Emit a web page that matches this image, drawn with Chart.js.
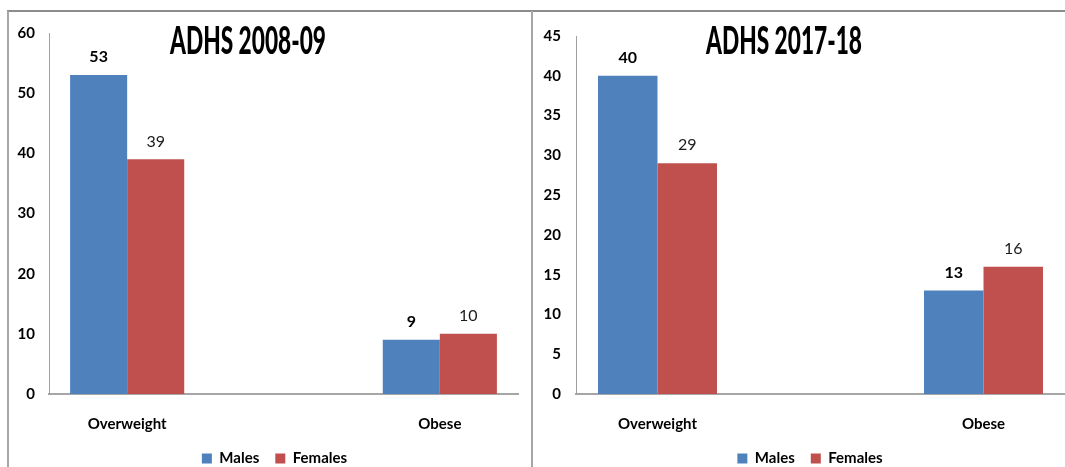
<!DOCTYPE html>
<html>
<head>
<meta charset="utf-8">
<title>ADHS overweight and obesity</title>
<script src="https://cdn.jsdelivr.net/npm/chart.js@4.4.1/dist/chart.umd.min.js"></script>
<style>
  html, body { margin: 0; padding: 0; background: #fff; }
  body { width: 1065px; height: 467px; overflow: hidden; position: relative; }
  .panel { position: absolute; top: 0; }
  .panel canvas { display: block; }
  .rule { position: absolute; background: #a6a6a6; }
</style>
</head>
<body>
<div class="panel" id="p1" style="left:0;width:532px;height:480px"><canvas id="c1"></canvas></div>
<div class="panel" id="p2" style="left:532px;width:560px;height:480px"><canvas id="c2"></canvas></div>
<div class="rule" style="left:7px;top:10px;width:1058px;height:2px;background:#8c8c8c"></div>
<div class="rule" style="left:7px;top:11px;width:2px;height:456px"></div>
<div class="rule" style="left:531px;top:11px;width:2px;height:456px"></div>
<script>
// Survey categories and series
const categories = ['Overweight', 'Obese'];
const seriesNames = ['Males', 'Females'];
const seriesColors = ['#4F81BD', '#C0504D'];

// ADHS 2008-09 (%)
const males0809 = [53, 9];
const females0809 = [39, 10];
// ADHS 2017-18 (%)
const males1718 = [40, 13];
const females1718 = [29, 16];

const titles = ['ADHS 2008-09', 'ADHS 2017-18'];
const axisMax = [60, 45];
const axisStep = [10, 5];

const FONT = "Lato, 'DejaVu Sans Condensed', sans-serif";
Chart.defaults.font.family = FONT;
Chart.defaults.color = '#000';

// The two groups sit in the outer slots of a three-slot axis
const slotLabels = [categories[0], '', categories[1]];
const toSlots = arr => [arr[0], null, arr[1]];

// Bar value labels: bold for males, regular for females
const valueLabels = {
  id: 'valueLabels',
  afterDatasetsDraw(chart) {
    const ctx = chart.ctx;
    ctx.save();
    ctx.textAlign = 'center';
    ctx.textBaseline = 'middle';
    chart.data.datasets.forEach((ds, di) => {
      const meta = chart.getDatasetMeta(di);
      ctx.font = (di === 0 ? 'bold ' : '') + '16px ' + FONT;
      ctx.fillStyle = di === 0 ? '#000' : '#1a1a1a';
      meta.data.forEach((el, i) => {
        const v = ds.data[i];
        if (v === null || v === undefined) return;
        ctx.fillText(String(v), el.x, el.y - 18);
      });
    });
    ctx.restore();
  }
};

// Condensed heading drawn over the top of the plot area
const panelTitle = {
  id: 'panelTitle',
  afterDraw(chart, args, opts) {
    const ctx = chart.ctx;
    ctx.save();
    ctx.font = '900 ' + opts.size + 'px ' + FONT;
    const w = ctx.measureText(opts.text).width;
    const sx = Math.min(1, opts.width / w);
    ctx.translate(opts.x, opts.y);
    ctx.scale(sx, 1);
    ctx.fillStyle = '#000';
    ctx.textAlign = 'center';
    ctx.textBaseline = 'middle';
    ctx.fillText(opts.text, 0, 0);
    ctx.restore();
  }
};

// Nudges the bottom legend sideways after layout
const legendShift = {
  id: 'legendShift',
  afterLayout(chart, args, opts) {
    const lg = chart.legend;
    if (lg) { lg.left += opts.dx; lg.right += opts.dx; }
  }
};

function makeChart(canvasId, males, females, title, max, step, geo) {
  return new Chart(document.getElementById(canvasId), {
    type: 'bar',
    data: {
      labels: slotLabels,
      datasets: [
        { label: seriesNames[0], data: toSlots(males), backgroundColor: seriesColors[0] },
        { label: seriesNames[1], data: toSlots(females), backgroundColor: seriesColors[1] }
      ]
    },
    options: {
      responsive: true,
      maintainAspectRatio: false,
      animation: false,
      events: [],
      categoryPercentage: 0.73,
      barPercentage: 1.0,
      layout: { padding: { left: 0, right: geo.pr, top: geo.pt, bottom: 4 } },
      scales: {
        x: {
          grid: { display: false, drawTicks: false },
          border: { display: true, color: '#a6a6a6', width: 2 },
          ticks: { padding: 21, font: { size: 15, weight: 'bold' }, color: '#000' },
          afterFit(scale) { scale.height = 41; }
        },
        y: {
          min: 0, max: max,
          grid: { display: false, drawTicks: false },
          border: { display: true, color: '#a0a0a0', width: 1 },
          ticks: { stepSize: step, padding: geo.tp, font: { size: 15, weight: 'bold' }, color: '#000' },
          afterFit(scale) { scale.width = geo.yw; }
        }
      },
      plugins: {
        legend: {
          position: 'bottom',
          labels: { boxWidth: 10, boxHeight: 10, padding: 16, font: { size: 15, weight: 'bold' }, color: '#000' }
        },
        tooltip: { enabled: false },
        panelTitle: { text: title, x: geo.tx, y: 41.5, size: 38, width: 156 },
        legendShift: { dx: geo.dx }
      }
    },
    plugins: [valueLabels, panelTitle, legendShift]
  });
}

makeChart('c1', males0809, females0809, titles[0], axisMax[0], axisStep[0],
  { pr: 14, pt: 33, yw: 49, tp: 14, tx: 248, dx: 15.5 });
makeChart('c2', males1718, females1718, titles[1], axisMax[1], axisStep[1],
  { pr: 27, pt: 36, yw: 44, tp: 15, tx: 252, dx: 11.5 });
</script>
</body>
</html>
